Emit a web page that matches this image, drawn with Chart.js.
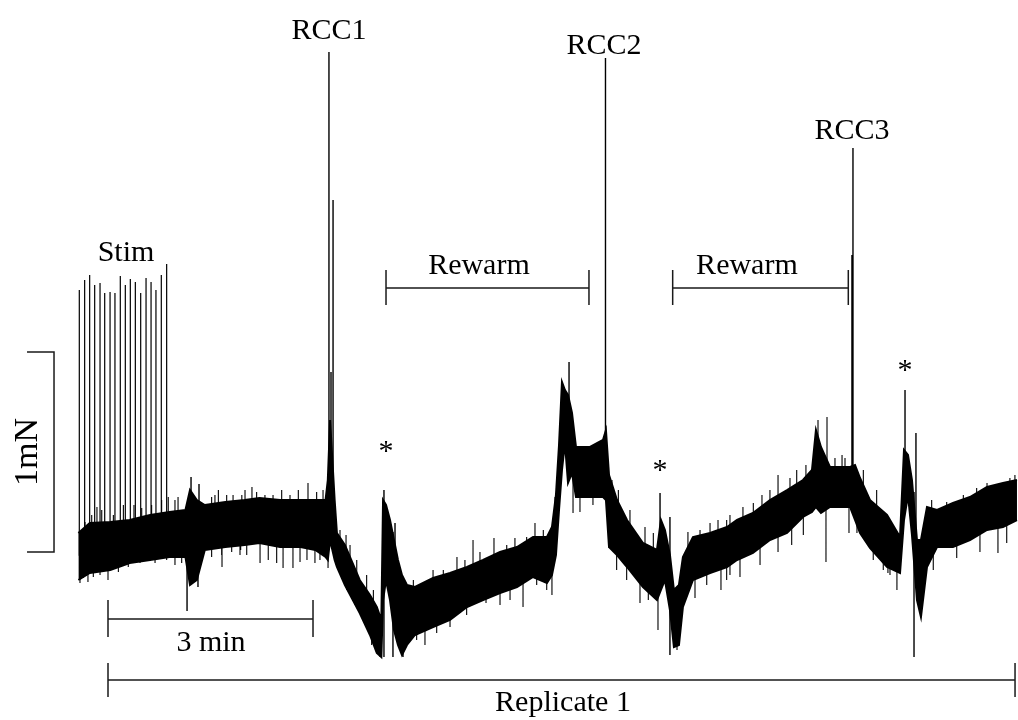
<!DOCTYPE html>
<html>
<head>
<meta charset="utf-8">
<title>Replicate 1</title>
<script src="https://cdn.jsdelivr.net/npm/chart.js@4.4.1/dist/chart.umd.min.js"></script>
<style>
  html, body { margin: 0; padding: 0; background: #fff; }
  #wrap { width: 1018px; height: 720px; position: relative; }
</style>
</head>
<body>
<div id="wrap"><canvas id="trace"></canvas></div>
<script>
// force trace in mN against time in s (t = 0 where the replicate starts)
// envelope of the noisy baseline: top and bottom of the band at each time
const traceTime = [-26, -16, 2, 19, 37, 54, 68, 72, 78, 85,
  103, 120, 133, 151, 169, 182, 191, 193, 195, 199,
  201, 208, 221, 230, 236, 240, 241.5, 244.1, 247.6, 251.1,
  254.6, 258.1, 262.5, 269.5, 285.4, 300.3, 315.2, 329.3, 344.2, 359.1,
  373.2, 385.4, 389.8, 393.3, 396.0, 398.6, 401.2, 403.9, 407.4, 410.9,
  423.2, 434.6, 437.2, 439.9, 446.9, 455.7, 469.7, 482.0, 485.5, 489.0,
  493.4, 496.9, 501.3, 504.8, 513.6, 528.6, 543.5, 552.3, 566.3, 581.2,
  596.2, 610.2, 618.1, 621.6, 626.0, 633.9, 651.5, 655.9, 660.3, 669.0,
  684.0, 695.4, 698.9, 702.4, 705.9, 710.3, 713.8, 719.1, 727.9, 741.9,
  756.8, 771.8, 785.8, 798.1];
const traceHigh = [0.095, 0.145, 0.15, 0.16, 0.185, 0.20, 0.21, 0.31, 0.26, 0.235,
  0.25, 0.26, 0.27, 0.26, 0.26, 0.26, 0.26, 0.36, 0.66, 0.26,
  0.095, 0.035, -0.14, -0.215, -0.275, -0.34, 0.26, 0.235, 0.16, 0.06,
  -0.04, -0.115, -0.165, -0.175, -0.13, -0.105, -0.075, -0.04, 0, 0.025,
  0.075, 0.075, 0.125, 0.285, 0.535, 0.85, 0.81, 0.785, 0.695, 0.525,
  0.525, 0.56, 0.61, 0.385, 0.26, 0.16, 0.045, 0.01, 0.16, 0.11,
  -0.015, -0.19, -0.165, -0.025, 0.075, 0.095, 0.125, 0.16, 0.195, 0.26,
  0.31, 0.36, 0.41, 0.61, 0.525, 0.425, 0.425, 0.435, 0.37, 0.26,
  0.185, 0.075, 0.51, 0.485, 0.36, 0.06, 0.06, 0.225, 0.21, 0.245,
  0.275, 0.325, 0.345, 0.36];
const traceLow = [-0.14, -0.105, -0.09, -0.055, -0.04, -0.025, -0.025, -0.165, -0.14, 0.01,
  0.025, 0.035, 0.045, 0.025, 0.025, 0.01, -0.025, -0.04, 0.06, -0.04,
  -0.075, -0.165, -0.305, -0.415, -0.505, -0.525, -0.24, -0.14, -0.24, -0.39,
  -0.465, -0.515, -0.465, -0.415, -0.375, -0.34, -0.275, -0.24, -0.205, -0.175,
  -0.125, -0.155, -0.115, -0.015, 0.21, 0.41, 0.545, 0.345, 0.395, 0.275,
  0.275, 0.275, 0.26, 0.025, -0.015, -0.075, -0.175, -0.24, -0.19, -0.14,
  -0.29, -0.475, -0.465, -0.275, -0.14, -0.105, -0.075, -0.04, -0.005, 0.06,
  0.095, 0.175, 0.20, 0.225, 0.195, 0.225, 0.225, 0.16, 0.095, 0.02,
  -0.075, -0.105, 0.16, 0.285, 0.085, -0.24, -0.325, -0.075, 0.025, 0.025,
  0.06, 0.11, 0.125, 0.16];

// electrical field stimulation twitches
const stimTime = [-25.2, -20.5, -16.1, -11.7, -7.0, -2.9, 1.8, 6.1, 10.8, 15.2,
  19.6, 24.0, 28.7, 33.4, 37.8, 42.1, 46.8, 51.5];
const stimPeak = [1.31, 1.36, 1.385, 1.335, 1.345, 1.295, 1.30, 1.295, 1.38, 1.335,
  1.365, 1.35, 1.295, 1.37, 1.35, 1.31, 1.385, 1.44];

// rapid cooling contractures and the transients after each rewarm
const eventTime = [69.4, 72.9, 79.0, 79.9, 194.0, 195.8, 197.6, 242.3, 250.2, 252.0,
  259.0, 404.8, 436.8, 484.7, 493.4, 653.2, 654.1, 699.8, 707.7, 709.4];
const eventLow = [-0.295, -0.1, -0.175, 0.0, 0.1, 0.1, 0.0, -0.525, -0.525, -0.3,
  -0.525, 0.4, 0.3, -0.2, -0.515, 0.2, 0.2, 0.2, -0.525, 0.0];
const eventHigh = [0.1, 0.375, 0.1, 0.34, 2.50, 0.9, 1.76, 0.31, 0.1, 0.145,
  -0.2, 0.95, 2.47, 0.295, 0.175, 1.485, 2.02, 0.81, 0.3, 0.595];

// single noise excursions above the band
const upTipTime = [-9.7, 22.8, 61.5, 93.9, 109.8, 126.4, 144.9, 175.6, 188.8, 209.0,
  285.4, 306.4, 320.5, 338.9, 357.3, 374.9, 392.5, 442.5, 509.2, 535.6,
  557.5, 574.2, 588.3, 612.8, 623.4, 631.3, 644.5, 771.8, 796.3,
  -20.2, -14.3, -5.5, 4.7, 13.5, 29.6, 38.3, 47.1, 52.9, 58.8,
  91.0, 96.9, 104.2, 117.5, 120.3, 130.5, 137.8, 152.5, 159.8, 167.1,
  183.2, 203.7, 212.5, 218.4, 227.1, 233.0, 268.1, 294.4, 313.4, 326.6,
  350.1, 367.6, 382.2, 448.1, 458.3, 471.5, 478.8, 519.8, 528.6, 543.2,
  546.1, 566.6, 581.2, 598.8, 604.7, 638.3, 647.1, 663.2, 674.9, 679.3,
  723.2, 736.4, 751.0, 762.7, 791.9];
const upTipValue = [0.225, 0.235, 0.275, 0.285, 0.285, 0.325, 0.285, 0.345, 0.31, 0.085,
  -0.09, -0.025, 0.06, 0.07, 0.07, 0.145, 0.275, 0.36, 0.10, 0.16,
  0.225, 0.285, 0.385, 0.435, 0.66, 0.675, 0.485, 0.345, 0.385,
  0.15, 0.185, 0.21, 0.185, 0.235, 0.22, 0.235, 0.26, 0.275, 0.26,
  0.275, 0.31, 0.285, 0.285, 0.31, 0.30, 0.285, 0.31, 0.285, 0.31,
  0.30, 0.11, 0.035, -0.04, -0.115, -0.19, -0.14, -0.09, -0.04, 0,
  0.035, 0.075, 0.11, 0.31, 0.21, 0.125, 0.095, 0.11, 0.145, 0.16,
  0.185, 0.245, 0.31, 0.37, 0.41, 0.47, 0.47, 0.41, 0.31, 0.195,
  0.26, 0.25, 0.285, 0.32, 0.37];

// single noise excursions below the band
const downTipTime = [-24.6, -17.6, 0, 100.1, 115.9, 133.5, 153.7, 162.4, 174.7, 193.2,
  238.8, 278.3, 300.3, 331.9, 364.4, 389.8, 408.3, 414.4, 425.8, 439.9,
  467.1, 482.9, 499.6, 515.4, 538.2, 554.9, 588.3, 630.4, 650.6, 657.6,
  684.8, 692.7, 781.4,
  -21.7, -12.9, -7.0, 9.1, 17.8, 28.1, 41.3, 51.5, 58.8, 64.7,
  91.0, 99.8, 108.6, 116.5, 121.8, 140.7, 148.1, 168.6, 181.7, 186.1,
  209.6, 216.9, 225.6, 231.5, 271.0, 288.6, 314.9, 344.2, 353.0, 376.4,
  385.2, 446.6, 455.4, 474.4, 525.7, 543.2, 546.1, 572.5, 600.3, 610.5,
  671.9, 680.7, 686.6, 724.6, 745.2, 765.6, 789.1];
const downTipValue = [-0.155, -0.15, -0.14, -0.075, -0.015, -0.055, -0.08, -0.08, -0.04, -0.08,
  -0.525, -0.465, -0.375, -0.255, -0.275, -0.215, 0.195, 0.2, 0.235, 0.02,
  -0.255, -0.39, -0.49, -0.23, -0.19, -0.125, 0, -0.05, 0.095, 0.095,
  -0.105, -0.19, -0.005,
  -0.13, -0.125, -0.115, -0.10, -0.075, -0.055, -0.055, -0.04, -0.065, -0.055,
  -0.025, -0.015, 0, 0.01, -0.015, -0.04, -0.055, -0.05, -0.055, -0.04,
  -0.19, -0.265, -0.365, -0.465, -0.44, -0.405, -0.315, -0.265, -0.24, -0.165,
  -0.19, -0.09, -0.14, -0.24, -0.165, -0.14, -0.115, -0.065, 0.035, 0.085,
  -0.04, -0.09, -0.115, -0.09, -0.03, 0, 0.045];

// protocol periods (s)
const rewarmPeriods = [[244.1, 422.3], [495.8, 650.0]];
const replicateSpan = [0, 796.4];
const timeBar = 180;   // 3 min
const forceBar = 1;    // 1 mN

// ---- helpers ----
// centre of the band at time t, used to anchor the excursion strokes
function bandMid(t) {
  for (let i = 0; i < traceTime.length - 1; i++) {
    if (t >= traceTime[i] && t <= traceTime[i + 1]) {
      const k = (t - traceTime[i]) / (traceTime[i + 1] - traceTime[i]);
      const a = (traceHigh[i] + traceLow[i]) / 2;
      const b = (traceHigh[i + 1] + traceLow[i + 1]) / 2;
      return a + k * (b - a);
    }
  }
  return (traceHigh[0] + traceLow[0]) / 2;
}

// vertical strokes, separated by null points so each one is its own segment
function strokes(times, from, to) {
  const pts = [];
  times.forEach((t, i) => {
    pts.push({ x: t, y: from[i] }, { x: t, y: to[i] }, { x: t, y: null });
  });
  return pts;
}

const upperPts = traceTime.map((t, i) => ({ x: t, y: traceHigh[i] }));
const lowerPts = traceTime.map((t, i) => ({ x: t, y: traceLow[i] }));
const stimPts = strokes(stimTime, stimTime.map(bandMid), stimPeak);
const eventPts = strokes(eventTime, eventLow, eventHigh);
const tipPts = strokes(upTipTime, upTipTime.map(bandMid), upTipValue)
  .concat(strokes(downTipTime, downTipTime.map(bandMid), downTipValue));

// ---- annotations: labels and scale bars ----
const serif = '"Liberation Serif", "Times New Roman", Times, serif';
const labels = [
  { text: 'Stim', t: 15.8, f: 1.455 },
  { text: 'RCC1', t: 194.0, f: 2.565 },
  { text: 'RCC2', t: 435.5, f: 2.49 },
  { text: 'RCC3', t: 653.2, f: 2.065 },
  { text: 'Rewarm', t: 325.7, f: 1.39 },
  { text: 'Rewarm', t: 561.0, f: 1.39 },
  { text: '*', t: 244.1, f: 0.46 },
  { text: '*', t: 484.7, f: 0.365 },
  { text: '*', t: 699.8, f: 0.865 },
  { text: '3 min', t: 90.4, f: -0.495 },
  { text: 'Replicate 1', t: 399.5, f: -0.795 }
];

const annotate = {
  id: 'annotate',
  afterDatasetsDraw(chart) {
    const ctx = chart.ctx;
    const X = v => chart.scales.x.getPixelForValue(v);
    const Y = v => chart.scales.y.getPixelForValue(v);

    ctx.save();
    ctx.strokeStyle = '#1a1a1a';
    ctx.lineWidth = 1.5;

    function hBar(t0, t1, f, tickLo, tickHi) {
      ctx.beginPath();
      ctx.moveTo(X(t0), Y(f));
      ctx.lineTo(X(t1), Y(f));
      ctx.moveTo(X(t0), Y(tickLo));
      ctx.lineTo(X(t0), Y(tickHi));
      ctx.moveTo(X(t1), Y(tickLo));
      ctx.lineTo(X(t1), Y(tickHi));
      ctx.stroke();
    }

    rewarmPeriods.forEach(p => hBar(p[0], p[1], 1.32, 1.235, 1.41));
    hBar(0, timeBar, -0.335, -0.425, -0.24);
    hBar(replicateSpan[0], replicateSpan[1], -0.64, -0.725, -0.555);

    // 1 mN bracket on the left
    ctx.beginPath();
    ctx.moveTo(X(-71.1), Y(forceBar));
    ctx.lineTo(X(-47.4), Y(forceBar));
    ctx.lineTo(X(-47.4), Y(0));
    ctx.lineTo(X(-71.1), Y(0));
    ctx.stroke();

    ctx.fillStyle = '#000';
    ctx.font = '30px ' + serif;
    ctx.textAlign = 'center';
    ctx.textBaseline = 'alphabetic';
    labels.forEach(l => ctx.fillText(l.text, X(l.t), Y(l.f)));

    // rotated force unit
    ctx.translate(X(-62.3), Y(0.5));
    ctx.rotate(-Math.PI / 2);
    ctx.font = '34px ' + serif;
    ctx.fillText('1mN', 0, 0);
    ctx.restore();
  }
};

const lineStyle = { pointRadius: 0, tension: 0, borderColor: '#000' };

new Chart(document.getElementById('trace'), {
  type: 'line',
  data: {
    datasets: [
      { ...lineStyle, label: 'upper', data: upperPts, borderWidth: 2, fill: '+1', backgroundColor: '#000' },
      { ...lineStyle, label: 'lower', data: lowerPts, borderWidth: 2, fill: false },
      { ...lineStyle, label: 'stim', data: stimPts, borderWidth: 1.2, fill: false },
      { ...lineStyle, label: 'events', data: eventPts, borderWidth: 1.4, fill: false },
      { ...lineStyle, label: 'tips', data: tipPts, borderWidth: 1.1, fill: false }
    ]
  },
  options: {
    responsive: true,
    maintainAspectRatio: false,
    animation: false,
    events: [],
    layout: { padding: 0 },
    plugins: { legend: { display: false }, tooltip: { enabled: false } },
    scales: {
      x: { type: 'linear', display: false, min: -94.83, max: 799.0 },
      y: { type: 'linear', display: false, min: -0.84, max: 2.76 }
    }
  },
  plugins: [annotate]
});
</script>
</body>
</html>
